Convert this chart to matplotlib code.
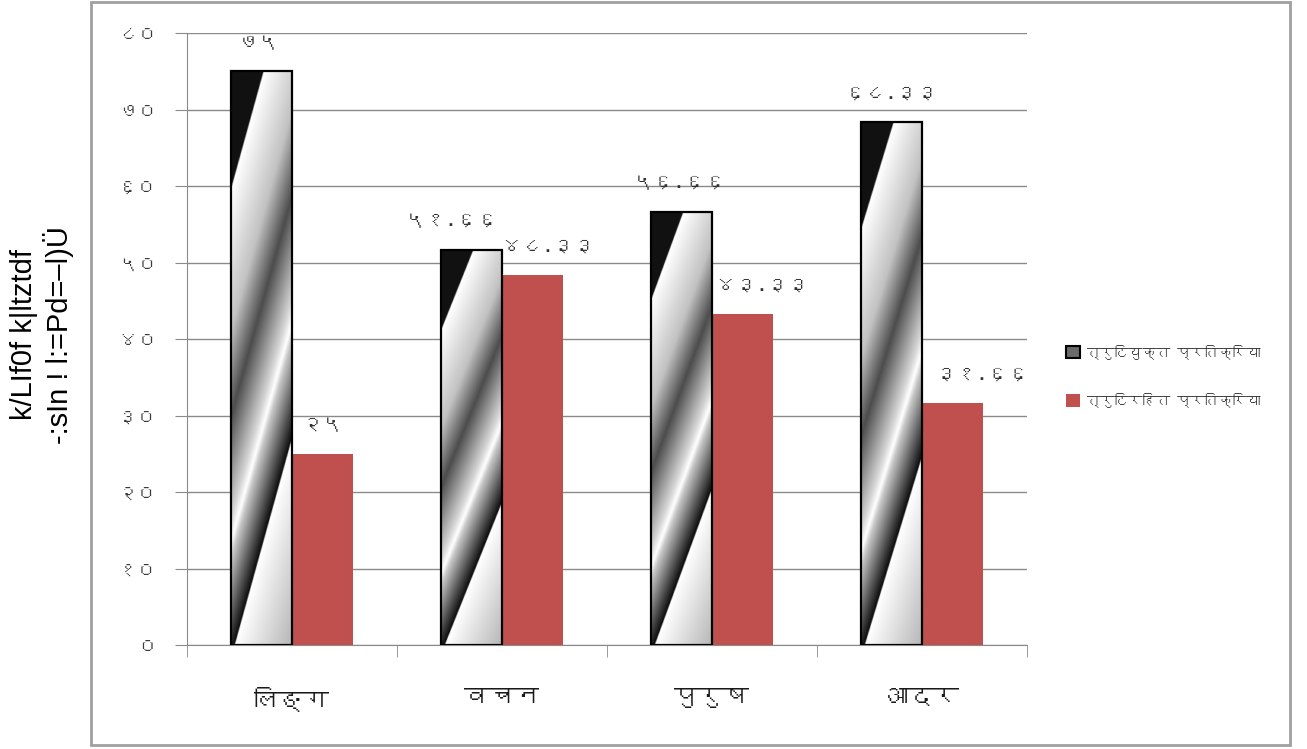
import matplotlib
matplotlib.use('Agg')
import matplotlib.pyplot as plt
import numpy as np
from matplotlib import font_manager
from matplotlib.ft2font import FT2Font
from matplotlib.patches import Patch, Rectangle

# data
categories = ['लिङ्ग', 'वचन', 'पुरुष', 'आदर']
series_names = ['त्रुटियुक्त प्रतिक्रिया', 'त्रुटिरहित प्रतिक्रिया']
with_error = [75, 51.66, 56.66, 68.33]
without_error = [25, 48.33, 43.33, 31.66]
y_ticks = [0, 10, 20, 30, 40, 50, 60, 70, 80]
y_label = 'k/LIf0f k|ltztdf\n-:sIn ! l:=Pd=–l)Ü'

DEVA_DIGITS = str.maketrans('0123456789', '०१२३४५६७८९')


def deva(v):
    return '{:g}'.format(v).translate(DEVA_DIGITS)


def font_with(ch, fallback='DejaVu Sans'):
    # first installed family that has a glyph for ch
    for f in font_manager.fontManager.ttflist:
        try:
            if ord(ch) in FT2Font(f.fname).get_charmap():
                return f.name
        except Exception:
            continue
    return fallback


deva_font = [font_with('क'), 'DejaVu Sans']

W, H = 1307, 749
fig = plt.figure(figsize=(W / 100, H / 100), dpi=100)
fig.patch.set_facecolor('white')
ax = fig.add_axes([187 / W, 1 - 645 / H, (1027 - 187) / W, (645 - 33) / H])

x = np.arange(len(categories))
w = 0.29
grid_c = '#8a8a8a'

# gradient fill for the first series (diagonal chrome-like bands)
t_pts = [0, 0.20, 0.205, 0.45, 0.60, 0.78, 0.82, 0.85, 1.02, 1.025, 1.4]
g_pts = [0.07, 0.07, 1.0, 0.76, 0.30, 0.84, 1.0, 0.78, 0.05, 1.0, 0.70]
uu, vv = np.meshgrid(np.linspace(0, 1, 80), np.linspace(0, 1, 400))
shade = np.interp(vv + 0.38 * uu, t_pts, g_pts)

bars1 = ax.bar(x - w / 2, with_error, w, facecolor='none', edgecolor='black',
               linewidth=1.6, zorder=4)
for b in bars1:
    x0, y0 = b.get_x(), b.get_y()
    im = ax.imshow(shade, cmap='gray', vmin=0, vmax=1, aspect='auto',
                   extent=(x0, x0 + b.get_width(), y0, y0 + b.get_height()),
                   interpolation='bilinear', zorder=3)
    im.set_clip_path(b)

bars2 = ax.bar(x + w / 2, without_error, w, color='#C0504D', zorder=3)

# value labels
off1 = [-3, -20, -2, 0]
off2 = [0, 16, 20, 30]
for bars, vals, offs in [(bars1, with_error, off1), (bars2, without_error, off2)]:
    for b, v, dx in zip(bars, vals, offs):
        ax.annotate(deva(v), (b.get_x() + b.get_width() / 2, v),
                    xytext=(dx * 0.72, 21), textcoords='offset points',
                    ha='center', va='center', fontsize=15, color='#333333',
                    family=deva_font, zorder=5)

ax.set_xlim(-0.5, 3.5)
ax.set_ylim(0, 80)
ax.set_yticks(y_ticks)
ax.set_yticklabels([deva(t) for t in y_ticks], family=deva_font,
                   fontsize=14, color='#3a3a3a')
ax.tick_params(axis='y', length=8.6, color=grid_c, pad=13)
ax.yaxis.grid(True, color=grid_c, linewidth=1)
ax.set_axisbelow(True)

ax.set_xticks(x)
ax.set_xticklabels(categories, family=deva_font, fontsize=18, color='#1a1a1a')
ax.set_xticks(np.arange(-0.5, 4, 1), minor=True)
ax.tick_params(axis='x', which='major', length=0, pad=30)
ax.tick_params(axis='x', which='minor', length=8.6, color=grid_c)

for s in ['top', 'right']:
    ax.spines[s].set_visible(False)
for s in ['left', 'bottom']:
    ax.spines[s].set_color(grid_c)

handles = [Patch(facecolor='#6a6a6a', edgecolor='black', linewidth=1.5),
           Patch(facecolor='#C0504D')]
fig.legend(handles, series_names, loc='upper left',
           bbox_to_anchor=(1066 / W, 1 - 344 / H), frameon=False,
           prop={'family': deva_font, 'size': 10}, handlelength=1.0,
           handleheight=1.0, handletextpad=0.5, labelspacing=2.4,
           borderpad=0, borderaxespad=0, labelcolor='#333333')

fig.text(42 / W, 1 - 335 / H, y_label, rotation=90, ha='center', va='center',
         multialignment='center', fontsize=21, family='Liberation Sans',
         linespacing=1.2)

fig.patches.append(Rectangle((91 / W, 1 - 745 / H), (1290 - 91) / W, (745 - 2) / H,
                             transform=fig.transFigure, fill=False,
                             edgecolor='#a0a0a0', linewidth=2))

fig.savefig('out.png', dpi=100)
